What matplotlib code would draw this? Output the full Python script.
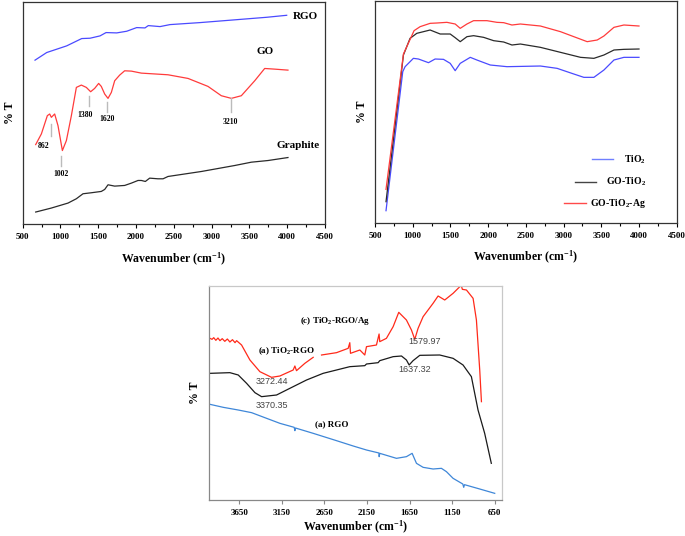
import matplotlib
matplotlib.use("Agg")
import matplotlib.pyplot as plt
import numpy as np

plt.rcParams['font.family'] = ['Liberation Serif', 'DejaVu Serif']
plt.rcParams['font.weight'] = 'bold'
plt.rcParams['mathtext.fontset'] = 'custom'
plt.rcParams['mathtext.rm'] = 'Liberation Serif:bold'
plt.rcParams['mathtext.it'] = 'Liberation Serif:bold'
plt.rcParams['mathtext.bf'] = 'Liberation Serif:bold'

# ---------------- Panel A data (Graphite / GO / RGO) ----------------
rgo_a_x = [663, 818, 1082, 1281, 1391, 1523, 1603, 1744, 1876, 2008, 2118, 2162, 2317, 2449, 2846, 3287, 3728, 3993]
rgo_a_y = [493, 516, 536, 558, 559, 566, 576, 575, 580, 591, 590, 597, 594, 600, 606, 614, 622, 628]

go_x = [672, 747, 826, 857, 879, 923, 967, 1025, 1078, 1144, 1210, 1276, 1342, 1399, 1452, 1505, 1540,
        1585, 1629, 1673, 1717, 1783, 1849, 1938, 2070, 2423, 2688, 2952, 3128, 3261, 3393, 3570, 3702, 3834, 4010]
go_y = [239, 271, 326, 331, 321, 331, 296, 221, 251, 326, 411, 418, 411, 398, 408, 423, 414,
        391, 378, 396, 431, 448, 461, 460, 454, 449, 438, 414, 386, 378, 386, 431, 468, 466, 463]

graphite_x = [672, 879, 1100, 1210, 1298, 1408, 1540, 1585, 1629, 1717, 1849, 1938, 2026, 2070, 2123, 2180,
              2290, 2357, 2423, 2864, 3305, 3525, 3746, 4010]
graphite_y = [36, 48, 63, 76, 91, 94, 98, 104, 118, 114, 116, 123, 131, 131, 128, 138,
              136, 136, 143, 158, 176, 186, 191, 200]

go_peak_labels = ['862', '1002', '1380', '1620', '3210']
go_peak_x = [870, 1002, 1380, 1620, 3260]
go_peak_line_top = [301, 206, 386, 368, 378]
go_peak_line_bottom = [266, 176, 356, 338, 336]
go_peak_label_x = [773, 1002, 1325, 1612, 3251]
go_peak_label_y = [236, 151, 328, 316, 306]

# ---------------- Panel B data (TiO2 composites) ----------------
tio2_x = [646, 868, 899, 1009, 1076, 1209, 1297, 1408, 1497, 1563, 1630, 1763, 1851, 2028, 2250, 2693,
          2914, 3136, 3269, 3402, 3535, 3668, 3800, 4000]
tio2_y = [36, 453, 468, 493, 491, 480, 491, 490, 478, 456, 478, 496, 488, 473, 468, 470,
          463, 446, 436, 436, 458, 488, 496, 496]

gotio2_x = [646, 877, 965, 1054, 1231, 1364, 1497, 1563, 1630, 1719, 1807, 1940, 2073, 2206, 2316, 2427,
            2693, 2959, 3225, 3402, 3535, 3668, 3800, 4000]
gotio2_y = [63, 503, 553, 568, 578, 566, 566, 555, 543, 558, 561, 556, 546, 542, 533, 536,
            526, 511, 496, 493, 503, 518, 520, 521]

gotio2ag_x = [646, 877, 1018, 1098, 1231, 1320, 1453, 1563, 1630, 1719, 1807, 1984, 2117, 2206, 2316, 2427,
              2693, 2959, 3136, 3313, 3446, 3535, 3668, 3800, 4000]
gotio2ag_y = [100, 506, 576, 588, 598, 599, 601, 596, 583, 596, 606, 606, 601, 600, 593, 596,
              590, 573, 558, 543, 548, 560, 586, 593, 590]

legend_b_labels = ['TiO$_2$', 'GO-TiO$_2$', 'GO-TiO$_2$-Ag']

# ---------------- Panel C data (RGO / TiO2-RGO / TiO2-RGO/Ag) ----------------
rgo_c_x = [3994, 3838, 3662, 3505, 3329, 3173, 3005, 2997, 2990, 2782, 2508, 2312, 2156, 2010, 2007, 2000,
           1804, 1687, 1620, 1569, 1491, 1374, 1276, 1217, 1139, 1025, 1014, 1005, 826, 650]
rgo_c_y = [287, 278, 270, 262, 245, 230, 218, 208, 216, 200, 178, 162, 150, 141, 130, 140,
           125, 130, 140, 110, 98, 93, 95, 85, 65, 48, 38, 46, 33, 20]

tio2rgo_x = [3994, 3760, 3662, 3564, 3466, 3388, 3212, 3056, 2860, 2665, 2508, 2352, 2176, 2156, 2019, 2000,
             1843, 1745, 1687, 1655, 1609, 1530, 1296, 1139, 1022, 924, 846, 768, 690]
tio2rgo_y = [380, 382, 375, 350, 322, 310, 315, 335, 360, 380, 390, 400, 403, 408, 412, 418,
             430, 432, 420, 405, 418, 434, 435, 425, 405, 370, 270, 200, 110]

tio2rgoag_x = [3994, 3970, 3950, 3925, 3900, 3877, 3850, 3820, 3790, 3760, 3730, 3700, 3681, 3623, 3525,
               3408, 3271, 3173, 3017, 2997, 2978, 2880, 2782, 2740, 2684, 2508, 2371, 2352, 2344, 2234,
               2176, 2156, 2039, 2008, 2000, 1922, 1843, 1777, 1687, 1628, 1589, 1550, 1491, 1374, 1315,
               1237, 1139, 1060, 1041, 1030, 982, 904, 865, 826, 806]
tio2rgoag_y = [485, 482, 487, 479, 486, 478, 484, 476, 483, 474, 481, 472, 478, 465, 420,
               385, 368, 372, 390, 402, 388, 410, 428, np.nan, 435, 442, 455, 472, 440, 450,
               435, 460, 465, 498, 475, 485, 520, 563, 540, 510, 482, 515, 550, 590, 612,
               600, 620, 640, 642, 632, 630, 605, 540, 390, 295]

blue_a = '#4a4aff'
red_a = '#ff3b3b'
black_a = '#2a2a2a'

fig = plt.figure(figsize=(6.85, 5.36), dpi=100)

tick_fs = 6.5
lab_fs = 8.5
xlab = 'Wavenumber (cm$^{\\mathregular{-1}}$)'

def style_top(ax):
    ax.set_xlim(500, 4500)
    ax.set_xticks(np.arange(500, 4501, 500))
    ax.set_xticks(np.arange(750, 4500, 500), minor=True)
    ax.set_yticks([])
    ax.tick_params(axis='x', direction='out', length=3, width=0.8, labelsize=tick_fs, pad=3.5)
    ax.tick_params(axis='x', which='minor', direction='out', length=2, width=0.8)
    for s in ax.spines.values():
        s.set_color('#333333')
        s.set_linewidth(0.9)
    ax.set_xlabel(xlab, fontsize=lab_fs, fontweight='bold', labelpad=7)
    ax.set_ylabel('% T', fontsize=lab_fs, fontweight='bold', labelpad=5)

# Panel A
axA = fig.add_axes([22.7/685, 1-224/536, (325-22.7)/685, (224-2)/536])
axA.plot(rgo_a_x, rgo_a_y, color=blue_a, lw=0.9)
axA.plot(go_x, go_y, color=red_a, lw=0.9)
axA.plot(graphite_x, graphite_y, color=black_a, lw=0.9)
axA.set_ylim(0, 668)
style_top(axA)
for xp, y0, y1, lx, ly, lab in zip(go_peak_x, go_peak_line_top, go_peak_line_bottom,
                                   go_peak_label_x, go_peak_label_y, go_peak_labels):
    axA.plot([xp, xp], [y0, y1], color='#bbbbbb', lw=1.0)
    axA.text(lx, ly, lab, fontsize=5.5, ha='center', va='center', fontweight='bold')
axA.text(4072, 625, 'RGO', fontsize=8, fontweight='bold', va='center', ha='left')
axA.text(3596, 519, 'GO', fontsize=8, fontweight='bold', va='center', ha='left')
axA.text(3852, 235, 'Graphite', fontsize=8, fontweight='bold', va='center', ha='left')

# Panel B
axB = fig.add_axes([375/685, 1-222.7/536, (676.7-375)/685, (222.7-1)/536])
axB.plot(tio2_x, tio2_y, color=blue_a, lw=0.9)
axB.plot(gotio2_x, gotio2_y, color=black_a, lw=0.9)
axB.plot(gotio2ag_x, gotio2ag_y, color=red_a, lw=0.9)
axB.set_ylim(0, 665)
style_top(axB)
leg_rows = [(159.3, 591.7, 612.7, legend_b_labels[0], '#6f7fff'),
            (181.7, 575.0, 596.0, legend_b_labels[1], '#444444'),
            (203.3, 564.0, 586.0, legend_b_labels[2], '#ff4a4a')]
for yy, xa, xb, lab, col in leg_rows:
    fy = 1 - yy/536
    fig.add_artist(plt.Line2D([xa/685, xb/685], [fy, fy], color=col, lw=1.0))
    fig.text(646/685, fy, lab, fontsize=7, fontweight='bold', ha='right', va='center')

# Panel C
axC = fig.add_axes([209.3/685, 1-500/536, (501.7-209.3)/685, (500-286)/536])
axC.plot(rgo_c_x, rgo_c_y, color='#3f87d8', lw=0.9)
axC.plot(tio2rgo_x, tio2rgo_y, color='#1a1a1a', lw=0.9)
axC.plot(tio2rgoag_x, tio2rgoag_y, color='#ff2a1a', lw=0.9)
axC.set_xlim(4002, 568)
axC.set_ylim(0, 642)
axC.set_xticks(np.arange(3650, 649, -500))
axC.set_yticks([])
axC.tick_params(axis='x', direction='out', length=3, width=0.8, labelsize=tick_fs, pad=3.5,
                color='#888888', labelcolor='#000000')
axC.spines['left'].set_color('#888888')
axC.spines['bottom'].set_color('#888888')
axC.spines['top'].set_color('#c8c8c8')
axC.spines['right'].set_color('#c8c8c8')
for s in axC.spines.values():
    s.set_linewidth(0.9)
axC.set_xlabel(xlab, fontsize=lab_fs, fontweight='bold', labelpad=1.5)
axC.set_ylabel('% T', fontsize=lab_fs, fontweight='bold', labelpad=6)
axC.text(2938, 538, '(c) TiO$_2$-RGO/Ag', fontsize=6.5, fontweight='bold', va='center', ha='left')
axC.text(3427, 447, '(a) TiO$_2$-RGO', fontsize=6.5, fontweight='bold', va='center', ha='left')
axC.text(2762, 227, '(a) RGO', fontsize=6.5, fontweight='bold', va='center', ha='left')
num_kw = dict(fontsize=6.5, fontweight='normal', family=['Liberation Sans', 'DejaVu Sans'],
              color='#444444', va='center', ha='left')
axC.text(3454, 357, '3272.44', **num_kw)
axC.text(3454, 282, '3370.35', **num_kw)
axC.text(1784, 392, '1637.32', **num_kw)
axC.text(1667, 477, '1579.97', **num_kw)

fig.savefig('out.png', dpi=100)
